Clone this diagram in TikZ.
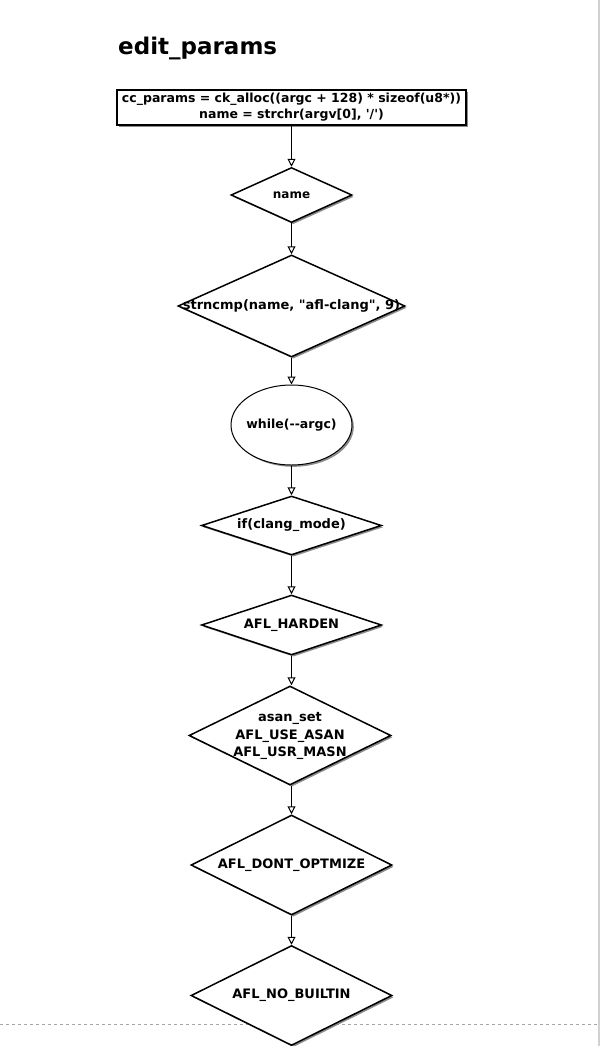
\documentclass[tikz,border=0pt]{standalone}
\usepackage{fontspec}
\newfontfamily\chartfont{DejaVu Sans}
\usetikzlibrary{shapes.geometric,arrows.meta,shadows}
% centre text without letting it widen the shape around it
\newcommand{\inbox}[1]{\makebox[0pt][c]{#1}}
\begin{document}
\begin{tikzpicture}[x=1pt,y=-1pt,
  txt/.style={font=\chartfont\bfseries\fontsize{12.5}{16}\selectfont},
  shade/.style={drop shadow={shadow xshift=1.8pt,shadow yshift=-1.8pt,fill=black!45,opacity=1}},
  procbox/.style={txt,rectangle,draw,line width=1.5pt,fill=white,shade,inner sep=0pt,align=center},
  decision/.style={txt,diamond,draw,line width=1.5pt,fill=white,shade,inner sep=0pt,
    font=\chartfont\bfseries\fontsize{13}{17.5}\selectfont},
  loopnode/.style={txt,ellipse,draw,line width=1pt,fill=white,shade,inner sep=0pt},
  flow/.style={draw,line width=1.3pt,-{Triangle[open,length=8pt,width=8pt,line width=1pt]}}]
\useasboundingbox (0,0) rectangle (600,1046);

% page edges of the canvas
\draw[black!18,line width=1.6pt] (599,0) -- (599,1046);
\draw[black!35,line width=0.8pt,dash pattern=on 3pt off 3pt] (0,1024) -- (598,1024);

% title
\node[anchor=base west,inner sep=0pt,font=\chartfont\bfseries\fontsize{23}{27}\selectfont] (title) at (118,55) {edit\_params};

% flow chart nodes
\node[procbox,minimum width=349,minimum height=35] (init) at (291.5,107.5)
  {cc\_params = ck\_alloc((argc + 128) * sizeof(u8*))\\ name = strchr(argv[0], '/')};
\node[decision,minimum width=121,minimum height=55,font=\chartfont\bfseries\fontsize{12}{16}\selectfont] (name) at (291.5,195) {\inbox{name}};
\node[decision,minimum width=227,minimum height=102] (cmp) at (291.5,306)
  {\inbox{strncmp(name, "afl-clang", 9)}};
\node[loopnode,minimum width=121,minimum height=80] (loop) at (291.5,425) {\inbox{while(-{}-argc)}};
\node[decision,minimum width=180,minimum height=59] (clang) at (291.5,525.5) {\inbox{if(clang\_mode)}};
\node[decision,minimum width=180,minimum height=60] (harden) at (291.5,625) {\inbox{AFL\_HARDEN}};
\node[decision,minimum width=202,minimum height=99] (asan) at (290,735.5)
  {\inbox{\begin{tabular}{@{}c@{}}asan\_set\\AFL\_USE\_ASAN\\AFL\_USR\_MASN\end{tabular}}};
\node[decision,minimum width=201,minimum height=100] (opt) at (291.5,865) {\inbox{AFL\_DONT\_OPTMIZE}};
\node[decision,minimum width=201,minimum height=100] (builtin) at (291.5,995.5) {\inbox{AFL\_NO\_BUILTIN}};

% connectors (all drop straight down the centre line)
\draw[flow] (init.south) -- (name.north);
\draw[flow] (name.south) -- (cmp.north);
\draw[flow] (cmp.south) -- (loop.north);
\draw[flow] (loop.south) -- (clang.north);
\draw[flow] (clang.south) -- (harden.north);
\draw[flow] (harden.south) -- (harden.south |- asan.north);
\draw[flow] (harden.south |- asan.south) -- (opt.north);
\draw[flow] (opt.south) -- (builtin.north);
\end{tikzpicture}
\end{document}
